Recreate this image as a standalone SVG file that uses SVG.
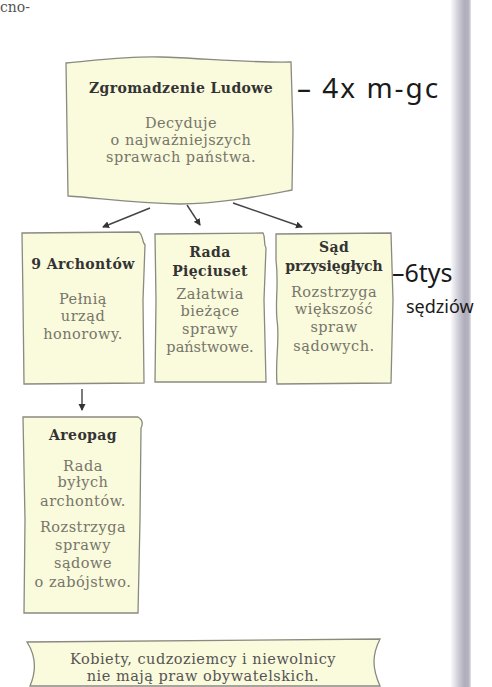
<svg xmlns="http://www.w3.org/2000/svg" width="492" height="687" viewBox="0 0 492 687">
<style>
.box{fill:#fafadc;stroke:#8a8a80;stroke-width:1.3}
.t{font-family:"DejaVu Serif","Liberation Serif",serif;font-weight:bold;font-size:14px;letter-spacing:0.4px;fill:#333;text-anchor:middle}
.b{font-family:"DejaVu Serif","Liberation Serif",serif;font-size:14.5px;letter-spacing:0.5px;fill:#76766a;text-anchor:middle}
.hw{font-family:"Noto Sans","DejaVu Sans",sans-serif;fill:#1a1a1a}
.c{stroke:#444;stroke-width:1.4;fill:none}
</style>
<defs>
<marker id="ah" markerWidth="8" markerHeight="8" refX="6" refY="4" orient="auto" markerUnits="userSpaceOnUse">
<path d="M0,0.5 L7,4 L0,7.5 Z" fill="#333"/>
</marker>
<linearGradient id="strip" x1="0" x2="1" y1="0" y2="0">
<stop offset="0" stop-color="#ffffff"/>
<stop offset="0.35" stop-color="#d4d2dc"/>
<stop offset="0.7" stop-color="#aeadba"/>
<stop offset="0.9" stop-color="#b8b4c0"/>
<stop offset="1" stop-color="#e8e6ec"/>
</linearGradient>
</defs>
<rect width="492" height="687" fill="#fff"/>
<rect x="450" y="0" width="21" height="687" fill="url(#strip)"/>
<text x="0" y="12" style="font-family:'DejaVu Serif','Liberation Serif',serif;font-size:14px;fill:#555">cno-</text>

<g id="connectors">
<path class="c" d="M150,208 L103,227" marker-end="url(#ah)"/>
<path class="c" d="M187,205 L200,225" marker-end="url(#ah)"/>
<path class="c" d="M233,203 L302,227" marker-end="url(#ah)"/>
<path class="c" d="M82,389 L82,410" marker-end="url(#ah)"/>
</g>

<g id="zgromadzenie">
<path class="box" d="M66,63 C100,60 130,56 160,57 C200,58 250,63 291,62 L293,130 L292,190 C260,196 220,204 180,204 C130,203 100,198 68,196 L67,130 Z"/>
<text class="t" x="181" y="93">Zgromadzenie Ludowe</text>
<text class="b" x="181" y="128">Decyduje</text>
<text class="b" x="181" y="145">o najważniejszych</text>
<text class="b" x="181" y="162">sprawach państwa.</text>
</g>

<g id="archontow">
<path class="box" d="M22,233 L139,232 C144,236 141,240 145,245 L143,300 L144,383 L24,384 L23,300 Z"/>
<text class="t" x="83" y="269">9 Archontów</text>
<text class="b" x="83" y="304">Pełnią</text>
<text class="b" x="83" y="321">urząd</text>
<text class="b" x="83" y="339">honorowy.</text>
</g>

<g id="rada">
<path class="box" d="M155,234 L263,233 C266,238 263,243 266,248 L264,300 L266,382 L155,382 L156,300 Z"/>
<text class="t" x="210" y="257">Rada</text>
<text class="t" x="210" y="276">Pięciuset</text>
<text class="b" x="210" y="299">Załatwia</text>
<text class="b" x="210" y="316">bieżące</text>
<text class="b" x="210" y="334">sprawy</text>
<text class="b" x="210" y="352" style="letter-spacing:0">państwowe.</text>
</g>

<g id="sad">
<path class="box" d="M276,234 L391,233 L393,300 L391,383 L277,384 C275,360 280,340 277,320 C275,300 279,285 276,260 Z"/>
<text class="t" x="334" y="252">Sąd</text>
<text class="t" x="334" y="271" style="letter-spacing:0">przysięgłych</text>
<text class="b" x="334" y="297">Rozstrzyga</text>
<text class="b" x="334" y="314">większość</text>
<text class="b" x="334" y="332">spraw</text>
<text class="b" x="334" y="351">sądowych.</text>
</g>

<g id="areopag">
<path class="box" d="M23,417 L138,417 C143,420 143,424 141,428 L140,520 L138,613 L24,613 L25,520 Z"/>
<text class="t" x="83" y="440">Areopag</text>
<text class="b" x="83" y="471">Rada</text>
<text class="b" x="83" y="487">byłych</text>
<text class="b" x="83" y="506">archontów.</text>
<text class="b" x="83" y="532">Rozstrzyga</text>
<text class="b" x="83" y="550">sprawy</text>
<text class="b" x="83" y="568">sądowe</text>
<text class="b" x="83" y="587">o zabójstwo.</text>
</g>

<g id="kobiety">
<path class="box" d="M27,642 C140,640 260,640 380,639 C372,655 372,668 380,686 L30,686 C36,672 36,656 27,642 Z"/>
<text class="b" x="203" y="664" style="fill:#555">Kobiety, cudzoziemcy i niewolnicy</text>
<text class="b" x="203" y="681" style="fill:#555">nie mają praw obywatelskich.</text>
</g>

<g id="notes">
<text class="hw" x="297" y="98" style="font-size:28px;letter-spacing:2px">– 4x m-gc</text>
<text class="hw" x="392" y="282" style="font-size:25px">–6tys</text>
<text class="hw" x="406" y="313" style="font-size:18px">sędziów</text>
</g>
</svg>
